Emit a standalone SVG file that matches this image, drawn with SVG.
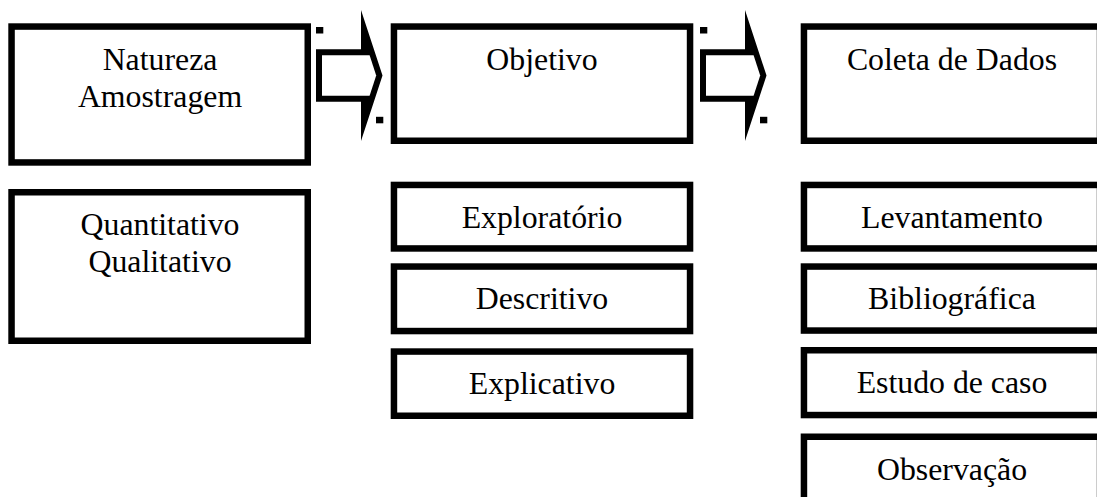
<svg xmlns="http://www.w3.org/2000/svg" width="1097" height="497" viewBox="0 0 1097 497">
<style>
.b{fill:#fff;stroke:#000;stroke-width:6.5}
.t{font-family:"Liberation Serif","Times New Roman",serif;font-size:31.8px;fill:#000;text-anchor:middle}
.k{fill:#000}
.w{fill:#fff}
</style>
<rect width="1097" height="497" fill="#fff"/>
<g id="natureza"><rect class="b" x="11.55" y="26.55" width="296.2" height="135.9"/><text class="t" x="160" y="70">Natureza</text><text class="t" x="160" y="106.7">Amostragem</text></g>
<g id="quantitativo"><rect class="b" x="11.55" y="192.25" width="296.2" height="148.5"/><text class="t" x="160" y="235">Quantitativo</text><text class="t" x="160" y="271.7">Qualitativo</text></g>
<g id="objetivo"><rect class="b" x="393.95" y="26.55" width="296.1" height="114.2"/><text class="t" x="542" y="70">Objetivo</text></g>
<g id="exploratorio"><rect class="b" x="393.95" y="184.95" width="296.1" height="63.5"/><text class="t" x="542" y="228.3">Exploratório</text></g>
<g id="descritivo"><rect class="b" x="393.95" y="266.55" width="296.1" height="64.5"/><text class="t" x="542" y="309.3">Descritivo</text></g>
<g id="explicativo"><rect class="b" x="393.95" y="351.55" width="296.1" height="64.2"/><text class="t" x="542" y="394">Explicativo</text></g>
<g id="coleta"><rect class="b" x="803.95" y="26.55" width="296.1" height="114.2"/><text class="t" x="952" y="70">Coleta de Dados</text></g>
<g id="levantamento"><rect class="b" x="803.95" y="184.95" width="296.1" height="63.5"/><text class="t" x="952" y="228.3">Levantamento</text></g>
<g id="bibliografica"><rect class="b" x="803.95" y="266.55" width="296.1" height="64"/><text class="t" x="952" y="309.3">Bibliográfica</text></g>
<g id="estudo"><rect class="b" x="803.95" y="350.25" width="296.1" height="64.8"/><text class="t" x="952" y="392.7">Estudo de caso</text></g>
<g id="observacao"><rect class="b" x="803.95" y="436.75" width="296.1" height="64"/><text class="t" x="952" y="480">Observação</text></g>
<g id="connectors">
<g id="arrow1">
<polygon class="k" points="316,49.3 361,49.3 361,10 382.5,75.5 361,141 361,101.7 316,101.7"/>
<polygon class="w" points="322,55.3 369.6,55.3 376.2,75.5 369.6,95.7 322,95.7"/>
<rect class="k" x="316" y="27" width="7.3" height="6.5"/>
<rect class="k" x="376" y="116.8" width="7.3" height="6.5"/>
</g>
<g id="arrow2">
<polygon class="k" points="700,49.3 745,49.3 745,10 766.5,75.5 745,141 745,101.7 700,101.7"/>
<polygon class="w" points="706,55.3 753.6,55.3 760.2,75.5 753.6,95.7 706,95.7"/>
<rect class="k" x="700" y="27" width="7.3" height="6.5"/>
<rect class="k" x="760" y="116.8" width="7.3" height="6.5"/>
</g>
</g>
</svg>
